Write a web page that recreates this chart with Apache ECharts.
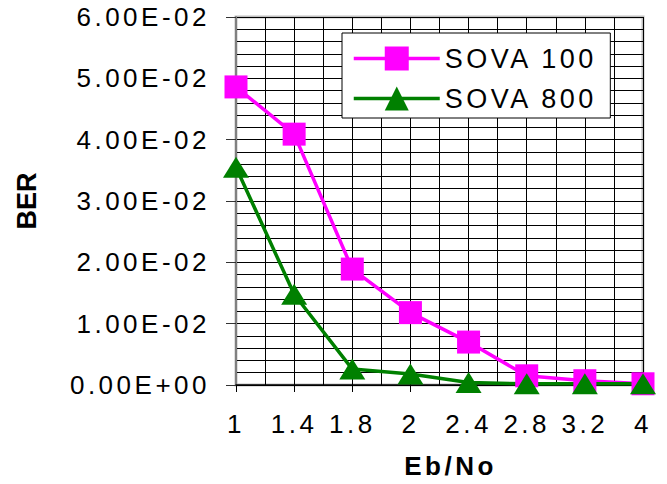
<!DOCTYPE html>
<html>
<head>
<meta charset="utf-8">
<script src="https://cdn.jsdelivr.net/npm/echarts@6/dist/echarts.min.js"></script>
<style>
  html, body { margin: 0; padding: 0; background: #fff; }
  #main { width: 667px; height: 484px; }
</style>
</head>
<body>
<div id="main"></div>
<script>
// Eb/No points and measured bit error rates
const categories = ['1', '1.4', '1.8', '2', '2.4', '2.8', '3.2', '4'];
const sova100 = [0.0486, 0.0409, 0.0189, 0.0118, 0.0070, 0.0015, 0.0007, 0.0002];
const sova800 = [0.0355, 0.0148, 0.0026, 0.0018, 0.0004, 0.0002, 0.0002, 0.0002];
const yTickLabels = ['0.00E+00', '1.00E-02', '2.00E-02', '3.00E-02', '4.00E-02', '5.00E-02', '6.00E-02'];

const FONT = 'Arial, "Liberation Sans", sans-serif';
const chart = echarts.init(document.getElementById('main'), null, { renderer: 'svg' });

chart.setOption({
  animation: false,
  backgroundColor: '#fff',
  textStyle: { fontFamily: FONT, color: '#000' },
  grid: {
    left: 236, right: 24, top: 17, bottom: 97.5,
    show: true, borderColor: '#c0c0c0', borderWidth: 3, backgroundColor: 'transparent'
  },
  legend: {
    orient: 'vertical',
    left: 342, top: 33,
    padding: [12, 40, 6, 10],
    itemWidth: 86, itemHeight: 30, itemGap: 13,
    backgroundColor: '#fff', borderColor: '#000', borderWidth: 1,
    lineStyle: { width: 3.5 },
    textStyle: { fontSize: 27, fontFamily: FONT, color: '#000', padding: [0, 0, 0, 0] },
    data: ['SOVA 100', 'SOVA 800']
  },
  xAxis: [
    {
      type: 'category', data: categories, boundaryGap: false,
      axisLine: { lineStyle: { color: '#000', width: 1.5 } },
      axisTick: { alignWithLabel: true, length: 7, lineStyle: { color: '#000', width: 1 } },
      axisLabel: { fontSize: 26, color: '#000', margin: 26 },
      splitLine: { show: false },
      name: 'Eb/No', nameLocation: 'middle', nameGap: 68,
      nameTextStyle: { fontSize: 26, fontWeight: 'bold', color: '#000', padding: [0, 0, 0, 22] }
    },
    {
      // half-step vertical grid lines
      type: 'value', min: 0, max: 14, interval: 1, position: 'top',
      axisLine: { show: false }, axisTick: { show: false }, axisLabel: { show: false },
      splitLine: { show: true, lineStyle: { color: '#000', width: 1 } }
    }
  ],
  yAxis: {
    type: 'value', min: 0, max: 0.06, interval: 0.01,
    axisLine: { show: true, lineStyle: { color: '#808080', width: 2 } },
    axisTick: { show: true, inside: false, length: 10, lineStyle: { color: '#333', width: 1 } },
    axisLabel: {
      fontSize: 26, color: '#000', margin: 26,
      formatter: v => yTickLabels[Math.round(v / 0.01)]
    },
    splitLine: { show: true, lineStyle: { color: '#000', width: 1 } },
    minorTick: { show: false, splitNumber: 5 },
    minorSplitLine: { show: true, lineStyle: { color: '#000', width: 1 } },
    name: 'BER', nameLocation: 'middle', nameGap: 196, nameRotate: 90,
    nameTextStyle: { fontSize: 27, fontWeight: 'bold', color: '#000' }
  },
  series: [
    {
      name: 'SOVA 100', type: 'line', data: sova100,
      symbol: 'rect', symbolSize: 23,
      lineStyle: { color: '#ff00ff', width: 3.5 },
      itemStyle: { color: '#ff00ff' }
    },
    {
      name: 'SOVA 800', type: 'line', data: sova800,
      symbol: 'triangle', symbolSize: [26, 21],
      lineStyle: { color: '#008000', width: 3.5 },
      itemStyle: { color: '#008000' }
    }
  ]
});

// wide letter spacing for the labels, axis title BER excepted
document.querySelectorAll('#main text').forEach(t => {
  if (t.textContent !== 'BER') t.style.letterSpacing = '3.5px';
});
</script>
</body>
</html>
